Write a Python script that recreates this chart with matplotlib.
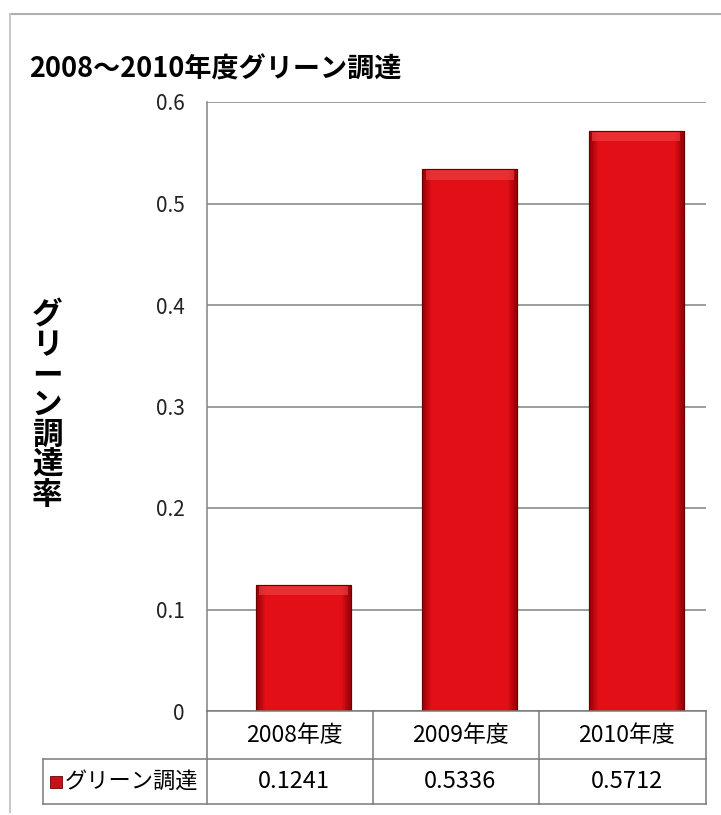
import matplotlib
matplotlib.use("Agg")
import matplotlib.pyplot as plt
from matplotlib.patches import Rectangle
from matplotlib.lines import Line2D
import numpy as np

plt.rcParams['font.family'] = ['Noto Sans CJK JP', 'DejaVu Sans']

# data
categories = ["2008年度", "2009年度", "2010年度"]
values = [0.1241, 0.5336, 0.5712]
series_name = "グリーン調達"
title = "2008～2010年度グリーン調達"
ylabel = "グリーン調達率"
yticks = [0, 0.1, 0.2, 0.3, 0.4, 0.5, 0.6]

W, H = 721, 815
fig = plt.figure(figsize=(W / 100, H / 100), dpi=100)

def fx(px):
    return px / W

def fy(py):
    return 1 - py / H

# plot area (pixel coords)
x0, x1 = 207, 706
y0, y1 = 711, 102
ax = fig.add_axes([fx(x0), fy(y0), fx(x1) - fx(x0), fy(y1) - fy(y0)])
ax.set_xlim(-0.5, len(categories) - 0.5)
ax.set_ylim(0, 0.6)
ax.set_yticks(yticks)
ax.set_yticklabels(["0" if t == 0 else f"{t:.1f}" for t in yticks], fontsize=15, color="#222222")
ax.tick_params(axis="y", length=0, pad=16)
ax.set_xticks([])
for s in ["top", "right", "bottom"]:
    ax.spines[s].set_visible(False)
ax.spines["left"].set_color("#8c8c8c")
ax.spines["left"].set_linewidth(1.2)
ax.grid(axis="y", color="#8c8c8c", linewidth=1.2)
ax.set_axisbelow(True)

# bars with a bevel-like horizontal gradient
bw = 0.57
shift = 0.08
grad = np.concatenate([np.linspace(0.0, 1.0, 7), np.ones(50), np.linspace(1.0, 0.0, 7)])
dark = np.array([0.60, 0.0, 0.03])
bright = np.array([0.89, 0.06, 0.09])
img = dark[None, None, :] + (bright - dark)[None, None, :] * grad[None, :, None]
for i, v in enumerate(values):
    left = i - bw / 2 + shift
    bars = ax.bar(i + shift, v, width=bw, color="#e00f16", edgecolor="#6a0000", linewidth=0.8, zorder=2)
    im = ax.imshow(img, extent=(left, left + bw, 0, v), aspect="auto", zorder=2.5, interpolation="bilinear")
    im.set_clip_path(bars[0])
    # lighter bevel at the top
    ax.add_patch(Rectangle((left + 0.02, v - 0.01), bw - 0.04, 0.01, facecolor="#f04545", edgecolor="none",
                           alpha=0.6, zorder=3))
    ax.add_patch(Rectangle((left, 0), bw, v, facecolor="none", edgecolor="#6a0000", linewidth=0.8, zorder=4))

# title and vertical y label
fig.text(fx(29), fy(70), title, fontsize=19.5, fontweight="bold", va="center", ha="left")
fig.text(fx(47), fy(405), "\n".join(ylabel), fontsize=22, fontweight="bold", va="center", ha="center",
         linespacing=0.92)

# data table under the plot
col_edges = [207, 373, 539, 706]
row_tops = [711, 759, 804]
leg_left = 43
lc = "#7a7a7a"
lines = []
lines.append(([x0, 706], [row_tops[0]] * 2))
lines.append(([leg_left, 706], [row_tops[1]] * 2))
lines.append(([leg_left, 706], [row_tops[2]] * 2))
for xe in col_edges:
    lines.append(([xe, xe], [row_tops[0], row_tops[2]]))
lines.append(([leg_left, leg_left], [row_tops[1], row_tops[2]]))
for xs, ys in lines:
    fig.add_artist(Line2D([fx(v) for v in xs], [fy(v) for v in ys], color=lc, linewidth=1.1))

for i, c in enumerate(categories):
    cx = (col_edges[i] + col_edges[i + 1]) / 2 + 4
    fig.text(fx(cx), fy((row_tops[0] + row_tops[1]) / 2), c, fontsize=16.5, ha="center", va="center")
    fig.text(fx(cx), fy((row_tops[1] + row_tops[2]) / 2), f"{values[i]:.4f}", fontsize=17,
             ha="center", va="center")

ym = (row_tops[1] + row_tops[2]) / 2
fig.add_artist(Rectangle((fx(50), fy(ym + 6)), fx(12), 12 / H, facecolor="#c8101a",
                         edgecolor="#6a0000", linewidth=0.6))
fig.text(fx(65), fy(ym), series_name, fontsize=16, ha="left", va="center")

# light outer frame of the chart
fig.add_artist(Line2D([fx(10), fx(721)], [fy(14), fy(14)], color="#b0b0b0", linewidth=1.5))
fig.add_artist(Line2D([fx(10), fx(10)], [fy(14), fy(812)], color="#c8c8c8", linewidth=1.5))

fig.savefig("out.png", dpi=100)
